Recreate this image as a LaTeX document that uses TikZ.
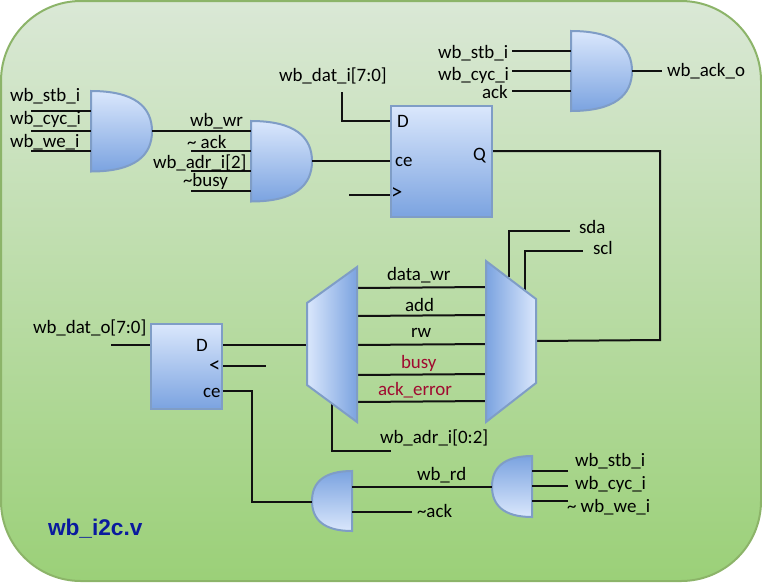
\documentclass[tikz,border=0pt]{standalone}
\usepackage{fontspec}
\setmainfont{Carlito}
\newfontfamily\titlefont{Liberation Sans}
\definecolor{wirec}{HTML}{111111}
\definecolor{redtxt}{HTML}{A00A30}
\definecolor{bluetxt}{HTML}{0A1A9E}
\definecolor{edgeb}{HTML}{7F9DC6}
\definecolor{lightb}{HTML}{DAE7FC}
\definecolor{darkb}{HTML}{7BA3E0}
\definecolor{bgtop}{RGB}{218,232,214}
\definecolor{bgbot}{RGB}{155,208,120}
\definecolor{bgedge}{RGB}{140,180,105}
\tikzset{
  wire/.style={draw=wirec,line width=1.5pt},
  lab/.style={anchor=base west,inner sep=0pt,outer sep=0pt,font=\fontsize{14.2pt}{16pt}\selectfont,text=black},
  redlab/.style={lab,text=redtxt},
  biglab/.style={lab,font=\fontsize{17pt}{18pt}\selectfont},
  anchorbox/.style={inner sep=0pt,outer sep=0pt,draw=none},
  shapeline/.style={draw=edgeb,line width=1.5pt},
  fdown/.style={top color=lightb,bottom color=darkb},
  fup/.style={top color=darkb,bottom color=lightb},
  fright/.style={left color=lightb,right color=darkb},
  fleft/.style={left color=darkb,right color=lightb},
}
% #1 name, #2-#5 x0,y0,x1,y1
\newcommand{\gatebox}[5]{\node[anchorbox,minimum width={(#4-#2)*0.75pt},minimum height={(#5-#3)*0.75pt}] (#1) at ({(#2+#4)/2},{(#3+#5)/2}) {};}
\newcommand{\andright}[5]{\gatebox{#1}{#2}{#3}{#4}{#5}
  \path[shapeline,fdown] (#1.north west) .. controls ({#2+0.72*(#4-#2)},#3) and (#4,{#3+0.2*(#5-#3)}) .. (#1.east)
    .. controls (#4,{#5-0.2*(#5-#3)}) and ({#2+0.72*(#4-#2)},#5) .. (#1.south west) -- cycle;}
\newcommand{\andleft}[5]{\gatebox{#1}{#2}{#3}{#4}{#5}
  \path[shapeline,fup] (#1.north east) .. controls ({#4-0.72*(#4-#2)},#3) and (#2,{#3+0.2*(#5-#3)}) .. (#1.west)
    .. controls (#2,{#5-0.2*(#5-#3)}) and ({#4-0.72*(#4-#2)},#5) .. (#1.south east) -- cycle;}
\begin{document}
\begin{tikzpicture}[x=0.75pt,y=-0.75pt]
\useasboundingbox (0,0) rectangle (762,582);
\path[draw=bgedge,line width=1.5pt,top color=bgtop,bottom color=bgbot,rounded corners=60pt]
  (1,1) rectangle (761,581);

% anchor boxes for blocks
\node[anchorbox,minimum width={101*0.75pt},minimum height={111*0.75pt}] (ff1) at (441.5,161.5) {};
\node[anchorbox,minimum width={71*0.75pt},minimum height={85*0.75pt}] (ff2) at (186.5,366.5) {};
\node[anchorbox,minimum width={50*0.75pt},minimum height={155*0.75pt}] (muxl) at (332,344.5) {};
\node[anchorbox,minimum width={50*0.75pt},minimum height={161*0.75pt}] (muxr) at (511,341.5) {};

% free wire ends
\coordinate (a1) at (31,111); \coordinate (a2) at (31,131); \coordinate (a3) at (31,151);
\coordinate (b2) at (191,151); \coordinate (b3) at (191,171); \coordinate (b4) at (191,191);
\coordinate (c1) at (512,51); \coordinate (c2) at (512,71); \coordinate (c3) at (512,91);
\coordinate (ackend) at (662,71);
\coordinate (dtop) at (341.5,92); \coordinate (dpin) at (391,121);
\coordinate (clk1) at (349,195); \coordinate (qpin) at (492,151);
\coordinate (qturn) at (660,151); \coordinate (qback) at (660,340); \coordinate (mrin) at (536,341);
\coordinate (dout) at (111,344.5); \coordinate (clk2a) at (222,366); \coordinate (clk2b) at (266,366);
\coordinate (cepin) at (222,391); \coordinate (ceturn) at (252,391); \coordinate (ceb) at (252,502);
\coordinate (adrtop) at (332,404); \coordinate (adrturn) at (332,451); \coordinate (adrend) at (391,451);
\coordinate (sda0) at (509,277); \coordinate (sda1) at (509,231); \coordinate (sda2) at (570,231);
\coordinate (scl0) at (525,290); \coordinate (scl1) at (525,251); \coordinate (scl2) at (583,251);
\coordinate (nack) at (412,512);
\coordinate (e1) at (568,471); \coordinate (e2) at (568,486); \coordinate (e3) at (568,501);

% gates
\andright{g1}{91}{91}{152}{171.5}
\andright{g2}{251}{121}{312}{201.5}
\andright{g3}{571}{31}{632}{111}
\andleft{g4}{312}{471}{352}{531}
\andleft{g5}{492}{456}{532}{517}

% wires
\draw[wire] (a1) -- (a1 -| g1.west);
\draw[wire] (a2) -- (a2 -| g1.west);
\draw[wire] (a3) -- (a3 -| g1.west);
\draw[wire] (g1.east) -- (g1.east -| g2.west);
\draw[wire] (b2) -- (b2 -| g2.west);
\draw[wire] (b3) -- (b3 -| g2.west);
\draw[wire] (b4) -- (b4 -| g2.west);
\draw[wire] (g2.east) -- (g2.east -| ff1.west);
\draw[wire] (c1) -- (c1 -| g3.west);
\draw[wire] (c2) -- (c2 -| g3.west);
\draw[wire] (c3) -- (c3 -| g3.west);
\draw[wire] (g3.east) -- (ackend);
\draw[wire] (dtop) |- (dpin);
\draw[wire] (clk1) -- (clk1 -| ff1.west);
\draw[wire] (qpin) -- (qturn) -- (qback) -- (mrin);
\draw[wire] (dout) -- (dout -| ff2.west);
\draw[wire] (ff2.east |- muxl.west) -- (muxl.west);
\draw[wire] (clk2a) -- (clk2b);
\draw[wire] (cepin) -- (ceturn) -- (ceb) -- (ceb -| g4.west);
\draw[wire] (adrtop) -- (adrturn) -- (adrend);
\draw[wire] (sda0) -- (sda1) -- (sda2);
\draw[wire] (scl0) -- (scl1) -- (scl2);
\draw[wire] (g4.north east |- g5.west) -- (g5.west);
\draw[wire] (nack) -- (nack -| g4.east);
\draw[wire] (e1) -- (e1 -| g5.east);
\draw[wire] (e2) -- (e2 -| g5.east);
\draw[wire] (e3) -- (e3 -| g5.east);
\foreach \yl/\yr [count=\i] in {288/287,316/315,345/344,375/374,402/401}{
  \coordinate (ml\i) at (357,\yl); \coordinate (mr\i) at (486,\yr);
  \draw[wire] (ml\i) -- (mr\i);
}

% blocks
\path[shapeline,fdown] (ff1.north west) rectangle (ff1.south east);
\path[shapeline,fdown] (ff2.north west) rectangle (ff2.south east);
\path[shapeline,fright] (muxl.west |- 0,303) -- (muxl.east |- muxl.north) -- (muxl.south east) -- (muxl.west |- 0,385) -- cycle;
\path[shapeline,fleft] (muxr.north west) -- (muxr.east |- 0,299) -- (muxr.east |- 0,383) -- (muxr.south west) -- cycle;

% labels
\node[lab] (t1) at (10,101) {wb\_stb\_i};
\node[lab] (t2) at (10,124) {wb\_cyc\_i};
\node[lab] (t3) at (10,147) {wb\_we\_i};
\node[lab] (t4) at (190,126) {wb\_wr};
\node[lab] (t5) at (187,148) {\textasciitilde\ ack};
\node[lab] (t6) at (153,168) {wb\_adr\_i[2]};
\node[lab] (t7) at (183,186) {\textasciitilde busy};
\node[lab] (t8) at (279,81) {wb\_dat\_i[7:0]};
\node[lab] (t9) at (438,58) {wb\_stb\_i};
\node[lab] (t10) at (438,80) {wb\_cyc\_i};
\node[lab] (t11) at (482,98) {ack};
\node[lab] (t12) at (667,76) {wb\_ack\_o};
\node[lab] (t13) at (397,127) {D};
\node[lab] (t14) at (395,166) {ce};
\node[lab] (t15) at (473,160) {Q};
\node[biglab] (t16) at (391,199) {>};
\node[lab] (t17) at (387,280) {data\_wr};
\node[lab] (t18) at (405,311) {add};
\node[lab] (t19) at (411,337) {rw};
\node[redlab] (t20) at (401,368) {busy};
\node[redlab] (t21) at (378,395) {ack\_error};
\node[lab] (t22) at (380,443) {wb\_adr\_i[0:2]};
\node[lab] (t23) at (579,233) {sda};
\node[lab] (t24) at (593,254) {scl};
\node[lab] (t25) at (33,333) {wb\_dat\_o[7:0]};
\node[lab] (t26) at (196,351) {D};
\node[biglab] (t27) at (209,372) {<};
\node[lab] (t28) at (203,397) {ce};
\node[lab,font=\titlefont\bfseries\fontsize{17pt}{18pt}\selectfont,text=bluetxt] (t29) at (48,535) {wb\_i2c.v};
\node[lab] (t30) at (417,480) {wb\_rd};
\node[lab] (t31) at (417,517) {\textasciitilde ack};
\node[lab] (t32) at (575,466) {wb\_stb\_i};
\node[lab] (t33) at (575,489) {wb\_cyc\_i};
\node[lab] (t34) at (567,512) {\textasciitilde\ wb\_we\_i};
\end{tikzpicture}
\end{document}
